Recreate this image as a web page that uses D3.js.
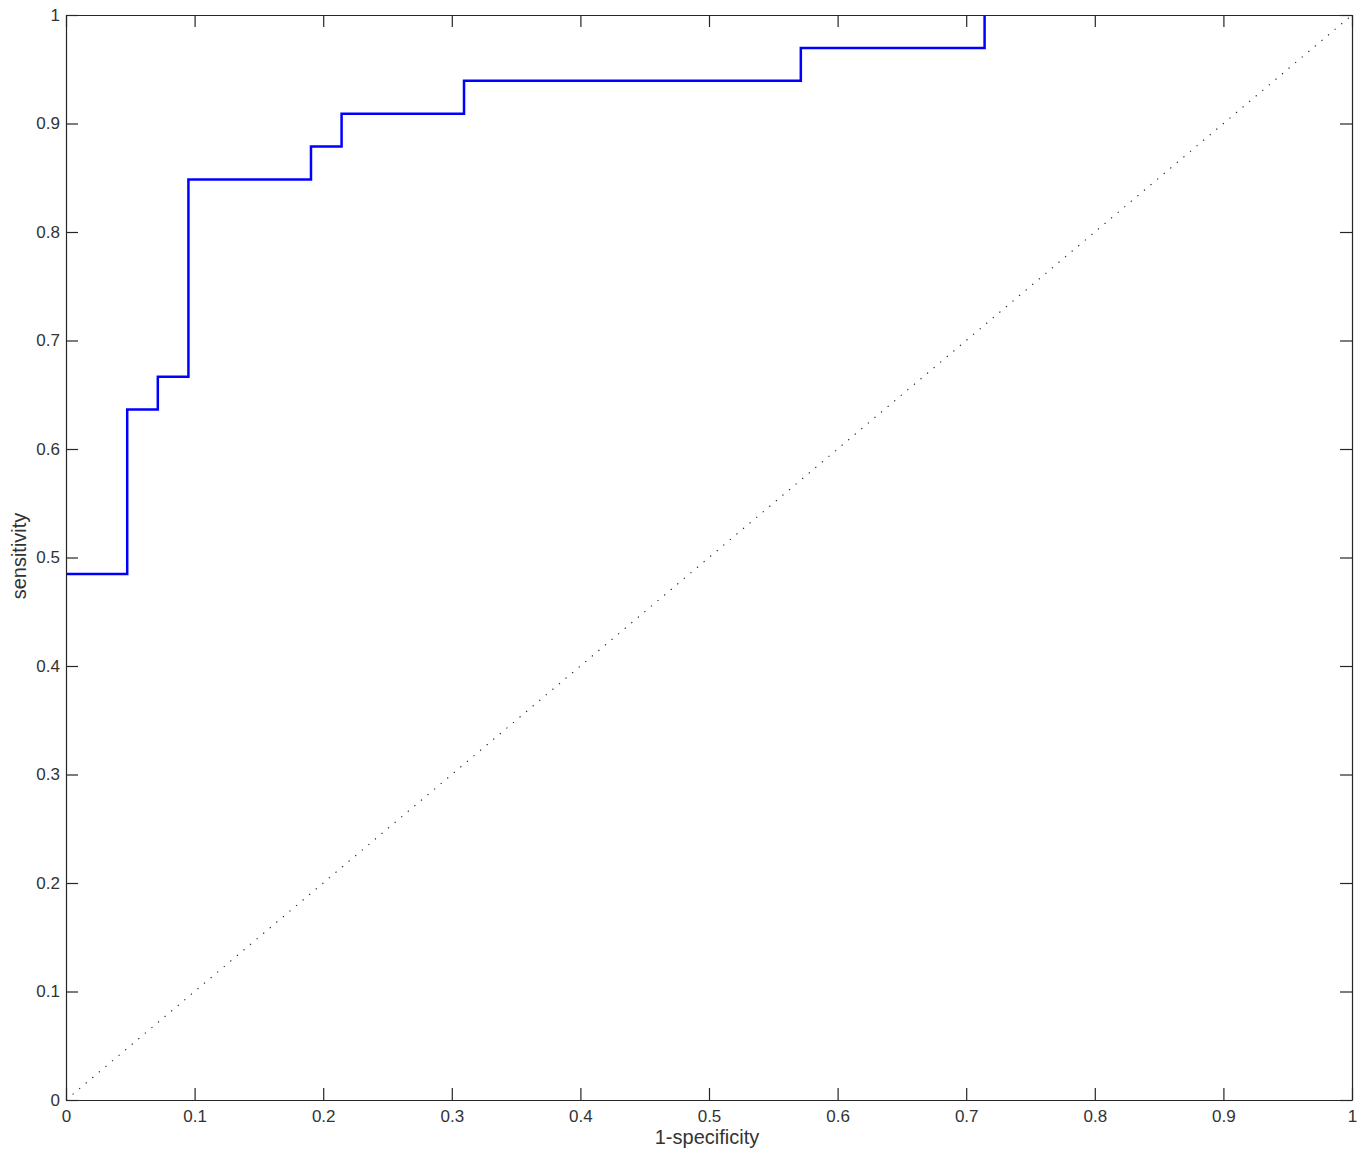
<!DOCTYPE html>
<html>
<head>
<meta charset="utf-8">
<script src="https://cdn.jsdelivr.net/npm/d3@7"></script>
<style>
  html, body { margin: 0; padding: 0; background: #fff; }
  svg { display: block; }
  text { font-family: "Liberation Sans", Arial, sans-serif; }
</style>
</head>
<body>
<svg id="chart" width="1366" height="1155"></svg>
<script>
// ROC curve data (1-specificity, sensitivity)
const fpr = [0, 0.0476, 0.0714, 0.0952, 0.1905, 0.2143, 0.3095, 0.5714, 0.7143];
const tpr = [0.4848, 0.6364, 0.6667, 0.8485, 0.8788, 0.9091, 0.9394, 0.9697, 1.0];
const xTicks = [0, 0.1, 0.2, 0.3, 0.4, 0.5, 0.6, 0.7, 0.8, 0.9, 1];
const yTicks = [0, 0.1, 0.2, 0.3, 0.4, 0.5, 0.6, 0.7, 0.8, 0.9, 1];
const xLabel = "1-specificity";
const yLabel = "sensitivity";

const svg = d3.select("#chart");
const m = { left: 66, right: 14, top: 15, bottom: 55 };
const W = 1366, H = 1155;
const x = d3.scaleLinear().domain([0, 1]).range([m.left, W - m.right]);
const y = d3.scaleLinear().domain([0, 1]).range([H - m.bottom, m.top]);

const axisColor = "#262626";
const tickLen = 12;
const fmt = d => d3.format("")(d);

// diagonal reference
svg.append("line")
  .attr("x1", x(0)).attr("y1", y(0))
  .attr("x2", x(1)).attr("y2", y(1))
  .attr("stroke", "#222").attr("stroke-width", 1.1)
  .attr("stroke-dasharray", "1.3,7.3");

// ROC curve
const pts = fpr.map((v, i) => [v, tpr[i]]);
svg.append("path")
  .datum(pts)
  .attr("fill", "none")
  .attr("stroke", "#0000ff")
  .attr("stroke-width", 2.5)
  .attr("d", d3.line().x(d => x(d[0])).y(d => y(d[1])).curve(d3.curveStepAfter));

// axes (ticks inside)
function styleAxis(g) {
  g.selectAll("path.domain").attr("stroke", axisColor).attr("stroke-width", 1.2);
  g.selectAll(".tick line").attr("stroke", axisColor).attr("stroke-width", 1.2);
  g.selectAll(".tick text").attr("fill", "#333").style("font-size", "17px")
    .style("font-family", '"Liberation Sans", Arial, sans-serif');
}

const gx = svg.append("g").attr("transform", `translate(0,${y(0)})`)
  .call(d3.axisBottom(x).tickValues(xTicks).tickFormat(fmt).tickSizeInner(-tickLen).tickSizeOuter(0).tickPadding(6));
styleAxis(gx);
gx.selectAll(".tick text").attr("dy", "0").attr("y", 22);

const gy = svg.append("g").attr("transform", `translate(${x(0)},0)`)
  .call(d3.axisLeft(y).tickValues(yTicks).tickFormat(fmt).tickSizeInner(-tickLen).tickSizeOuter(0).tickPadding(6));
styleAxis(gy);

const gt = svg.append("g").attr("transform", `translate(0,${y(1)})`)
  .call(d3.axisTop(x).tickValues(xTicks).tickFormat("").tickSizeInner(-tickLen).tickSizeOuter(0));
styleAxis(gt);

const gr = svg.append("g").attr("transform", `translate(${x(1)},0)`)
  .call(d3.axisRight(y).tickValues(yTicks).tickFormat("").tickSizeInner(-tickLen).tickSizeOuter(0));
styleAxis(gr);

// axis labels
svg.append("text")
  .attr("x", 707).attr("y", 1144)
  .attr("text-anchor", "middle").attr("fill", "#333")
  .style("font-size", "20px").text(xLabel);

svg.append("text")
  .attr("transform", `translate(26,${556}) rotate(-90)`)
  .attr("text-anchor", "middle").attr("fill", "#333")
  .style("font-size", "20px").text(yLabel);
</script>
</body>
</html>
